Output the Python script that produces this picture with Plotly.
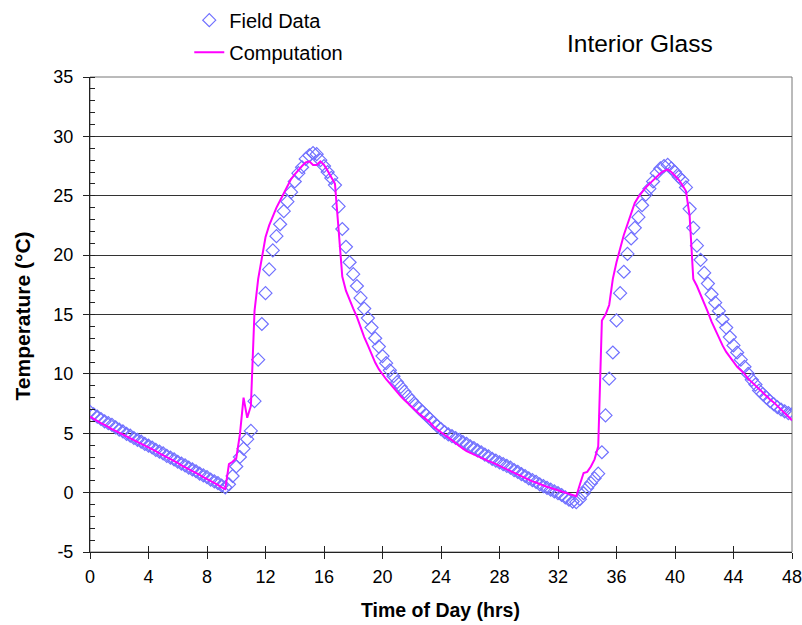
import plotly.graph_objects as go

STEP_HRS = 0.25  # field data and computation sampled every 15 minutes

field_temp = [
    6.8, 6.6, 6.4, 6.2,
    6.0, 5.85, 5.7, 5.5,
    5.3, 5.15, 4.95, 4.8,
    4.6, 4.45, 4.3, 4.1,
    3.95, 3.8, 3.6, 3.45,
    3.3, 3.1, 2.95, 2.8,
    2.6, 2.45, 2.3, 2.1,
    1.95, 1.8, 1.6, 1.45,
    1.3, 1.1, 0.95, 0.8,
    0.6, 0.45, 0.7, 1.4,
    2.2, 3.0, 3.7, 4.5,
    5.2, 7.7, 11.2, 14.2,
    16.8, 18.8, 20.4, 21.6,
    22.6, 23.7, 24.5, 25.3,
    26.2, 26.9, 27.4, 28.1,
    28.4, 28.6, 28.5, 28.0,
    27.5, 27.0, 26.5, 25.9,
    24.1, 22.2, 20.7, 19.4,
    18.4, 17.4, 16.4, 15.5,
    14.7, 13.9, 13.0, 12.3,
    11.5, 10.9, 10.3, 9.8,
    9.3, 8.9, 8.5, 8.1,
    7.75, 7.4, 7.1, 6.8,
    6.5, 6.2, 5.9, 5.6,
    5.35, 5.1, 4.9, 4.75,
    4.6, 4.45, 4.25, 4.1,
    3.9, 3.75, 3.55, 3.4,
    3.2, 3.05, 2.85, 2.7,
    2.55, 2.4, 2.25, 2.1,
    1.9, 1.75, 1.55, 1.4,
    1.2, 1.05, 0.9, 0.7,
    0.55, 0.4, 0.25, 0.1,
    -0.05, -0.2, -0.4, -0.6,
    -0.75, -0.8, -0.55, -0.05,
    0.4, 0.8, 1.2, 1.6,
    3.4, 6.5, 9.6, 11.8,
    14.5, 16.8, 18.6, 20.1,
    21.4, 22.3, 23.2, 24.2,
    25.1, 25.6, 26.2, 26.9,
    27.3, 27.5, 27.6, 27.3,
    27.0, 26.6, 26.3, 25.7,
    23.9, 22.3, 20.8, 19.6,
    18.5, 17.6, 16.7, 16.0,
    15.3, 14.6, 13.9, 13.1,
    12.4, 11.8, 11.2, 10.6,
    10.0, 9.5, 9.1, 8.6,
    8.3, 8.0, 7.7, 7.45,
    7.2, 7.0, 6.85, 6.7,
    6.6,
]

comp_temp = [
    6.4, 6.2, 6.0, 5.85,
    5.7, 5.5, 5.35, 5.2,
    5.05, 4.9, 4.75, 4.6,
    4.45, 4.3, 4.1, 3.95,
    3.8, 3.65, 3.5, 3.3,
    3.15, 3.0, 2.8, 2.65,
    2.5, 2.3, 2.15, 2.0,
    1.8, 1.65, 1.5, 1.3,
    1.15, 1.0, 0.8, 0.65,
    0.45, 0.3, 2.4, 2.6,
    2.9, 4.9, 8.0, 6.3,
    7.3, 15.3, 18.0, 19.9,
    21.5, 22.5, 23.3, 24.0,
    24.6, 25.2, 25.8, 26.4,
    26.8, 27.2, 27.5, 27.8,
    27.9, 27.6, 27.6, 27.9,
    27.6, 27.1, 26.6, 26.0,
    22.1, 18.2, 17.0, 16.2,
    15.5, 14.8, 13.9, 13.1,
    12.4, 11.6, 10.95, 10.4,
    9.95, 9.55, 9.2, 8.8,
    8.45, 8.1, 7.8, 7.5,
    7.2, 6.95, 6.65, 6.4,
    6.15, 5.9, 5.55, 5.3,
    5.05, 4.85, 4.65, 4.4,
    4.15, 3.9, 3.7, 3.5,
    3.35, 3.2, 3.05, 2.9,
    2.8, 2.65, 2.55, 2.4,
    2.3, 2.15, 2.0, 1.85,
    1.7, 1.55, 1.4, 1.25,
    1.1, 0.95, 0.85, 0.7,
    0.6, 0.5, 0.4, 0.25,
    0.15, 0.05, -0.05, -0.15,
    -0.25, -0.3, 0.7, 1.65,
    1.75, 2.2, 2.8, 3.9,
    14.5, 15.0, 15.8, 18.0,
    19.4, 20.6, 21.7, 22.6,
    23.6, 24.4, 24.9, 25.35,
    25.7, 26.0, 26.3, 26.6,
    26.9, 27.1, 27.2, 27.0,
    26.7, 26.35, 25.9, 25.4,
    23.3, 18.0, 17.4, 16.7,
    15.9, 15.2, 14.4, 13.7,
    13.0, 12.4, 11.85, 11.4,
    11.0, 10.6, 10.3, 10.0,
    9.6, 9.3, 9.0, 8.7,
    8.4, 8.1, 7.85, 7.6,
    7.3, 7.05, 6.7, 6.4,
    6.1,
]

field_hours = [i * STEP_HRS for i in range(len(field_temp))]
comp_hours = [i * STEP_HRS for i in range(len(comp_temp))]

x_ticks = [0, 4, 8, 12, 16, 20, 24, 28, 32, 36, 40, 44, 48]
y_ticks = [-5, 0, 5, 10, 15, 20, 25, 30, 35]
y_ticktext = ["-5", "0", "5", "10", "15", "20", "25", "30", "35"]

FONT = "Liberation Sans, Arial, sans-serif"
GRID = "#333333"
AX = "#222222"

fig = go.Figure()
fig.add_trace(go.Scatter(
    x=field_hours, y=field_temp, mode="markers", name="Field Data",
    marker=dict(symbol="diamond-open", size=10, color="#7070ff",
                line=dict(width=1.2, color="#7070ff")),
    legendgroup="a",
))
fig.add_trace(go.Scatter(
    x=comp_hours, y=comp_temp, mode="lines", name="Computation",
    line=dict(color="#ff00ff", width=2),
    legendgroup="b",
))
# invisible trace so the overlay axis (inside x ticks) is drawn
fig.add_trace(go.Scatter(x=[x_ticks[0]], y=[y_ticks[0]], xaxis="x2", mode="markers",
                         marker=dict(opacity=0), showlegend=False, hoverinfo="skip"))

fig.update_layout(
    width=802, height=625,
    margin=dict(l=90, r=10, t=77, b=73, autoexpand=False),
    paper_bgcolor="white", plot_bgcolor="rgba(0,0,0,0)",
    font=dict(family=FONT, size=18, color="black"),
    showlegend=True,
    legend=dict(xref="container", yref="container", x=0.236, y=0.999,
                xanchor="left", yanchor="top",
                bgcolor="rgba(0,0,0,0)", font=dict(size=20),
                traceorder="grouped", tracegroupgap=3, itemwidth=30),
    xaxis=dict(range=[x_ticks[0], x_ticks[-1]], tickvals=x_ticks,
               ticks="outside", ticklen=6, tickcolor=AX, tickwidth=1,
               showline=True, linecolor=AX, linewidth=1, automargin=False,
               showgrid=False, zeroline=False, ticklabelstandoff=2,
               ticklabeloverflow="allow",
               tickfont=dict(size=18)),
    xaxis2=dict(range=[x_ticks[0], x_ticks[-1]], tickvals=x_ticks, overlaying="x",
                anchor="y", side="bottom", ticks="inside", ticklen=6,
                tickcolor=AX, showticklabels=False, showgrid=False,
                zeroline=False, showline=False, automargin=False),
    yaxis=dict(range=[y_ticks[0], y_ticks[-1]], tickvals=y_ticks, ticktext=y_ticktext,
               ticks="outside", ticklen=6, tickcolor=AX, tickwidth=1,
               showline=True, linecolor=AX, linewidth=1, automargin=False,
               showgrid=True, gridcolor=GRID, gridwidth=1, zeroline=False,
               ticklabelstandoff=6, ticklabeloverflow="allow",
               tickfont=dict(size=18),
               minor=dict(dtick=1, ticks="inside", ticklen=5, tickcolor=AX, showgrid=False)),
    annotations=[
        dict(text="Interior Glass", xref="paper", yref="paper",
             x=0.7835, y=1.0695, xanchor="center", yanchor="middle",
             showarrow=False, font=dict(size=24.5)),
        dict(text="<b>Time of Day (hrs)</b>", xref="paper", yref="paper",
             x=0.4995, y=-0.122, xanchor="center", yanchor="middle",
             showarrow=False, font=dict(size=19.5)),
        dict(text="<b>Temperature (°C)</b>", xref="paper", yref="paper",
             x=-0.0969, y=0.498, xanchor="center", yanchor="middle", textangle=-90,
             showarrow=False, font=dict(size=21)),
    ],
    shapes=[dict(type="rect", xref="paper", yref="paper", x0=0, x1=1, y0=0, y1=1,
                 line=dict(color="#777777", width=1), layer="below")],
)

fig.write_html("out.html")
